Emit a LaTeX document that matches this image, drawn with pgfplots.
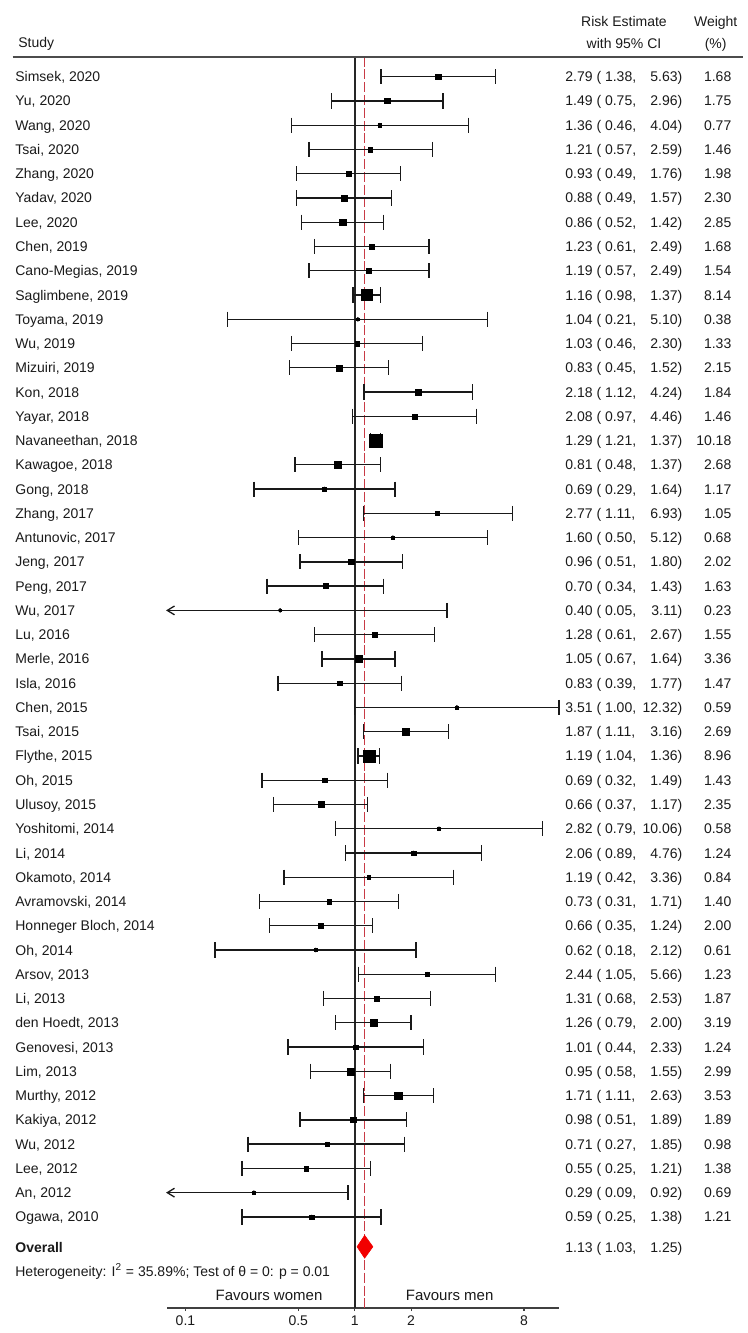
\documentclass[border=0pt]{standalone}
\usepackage{fontspec}
\setmainfont{Liberation Sans}
\usepackage{pgfplots}
\usepackage{pgfplotstable}
\pgfplotsset{compat=1.18}

% open arrow head for intervals that run past the left edge
\pgfdeclareplotmark{barb}{%
  \pgfpathmoveto{\pgfqpoint{3.6pt}{2.2pt}}%
  \pgfpathlineto{\pgfqpoint{0pt}{0pt}}%
  \pgfpathlineto{\pgfqpoint{3.6pt}{-2.2pt}}%
  \pgfusepathqstroke}

\definecolor{fpRed}{HTML}{C83A45}
\definecolor{fpDiamond}{HTML}{F20000}
\definecolor{fpText}{HTML}{1A1A1A}

% two-decimal numbers in the text font
\newcommand{\twodp}[1]{\pgfmathprintnumber[fixed,fixed zerofill,precision=2,assume math mode=true]{#1}}

\begin{document}
\pgfplotstableread[col sep=semicolon]{
idx;study;est;lo;hi;wt
1;Simsek, 2020;2.79;1.38;5.63;1.68
2;Yu, 2020;1.49;0.75;2.96;1.75
3;Wang, 2020;1.36;0.46;4.04;0.77
4;Tsai, 2020;1.21;0.57;2.59;1.46
5;Zhang, 2020;0.93;0.49;1.76;1.98
6;Yadav, 2020;0.88;0.49;1.57;2.30
7;Lee, 2020;0.86;0.52;1.42;2.85
8;Chen, 2019;1.23;0.61;2.49;1.68
9;Cano-Megias, 2019;1.19;0.57;2.49;1.54
10;Saglimbene, 2019;1.16;0.98;1.37;8.14
11;Toyama, 2019;1.04;0.21;5.10;0.38
12;Wu, 2019;1.03;0.46;2.30;1.33
13;Mizuiri, 2019;0.83;0.45;1.52;2.15
14;Kon, 2018;2.18;1.12;4.24;1.84
15;Yayar, 2018;2.08;0.97;4.46;1.46
16;Navaneethan, 2018;1.29;1.21;1.37;10.18
17;Kawagoe, 2018;0.81;0.48;1.37;2.68
18;Gong, 2018;0.69;0.29;1.64;1.17
19;Zhang, 2017;2.77;1.11;6.93;1.05
20;Antunovic, 2017;1.60;0.50;5.12;0.68
21;Jeng, 2017;0.96;0.51;1.80;2.02
22;Peng, 2017;0.70;0.34;1.43;1.63
23;Wu, 2017;0.40;0.05;3.11;0.23
24;Lu, 2016;1.28;0.61;2.67;1.55
25;Merle, 2016;1.05;0.67;1.64;3.36
26;Isla, 2016;0.83;0.39;1.77;1.47
27;Chen, 2015;3.51;1.00;12.32;0.59
28;Tsai, 2015;1.87;1.11;3.16;2.69
29;Flythe, 2015;1.19;1.04;1.36;8.96
30;Oh, 2015;0.69;0.32;1.49;1.43
31;Ulusoy, 2015;0.66;0.37;1.17;2.35
32;Yoshitomi, 2014;2.82;0.79;10.06;0.58
33;Li, 2014;2.06;0.89;4.76;1.24
34;Okamoto, 2014;1.19;0.42;3.36;0.84
35;Avramovski, 2014;0.73;0.31;1.71;1.40
36;Honneger Bloch, 2014;0.66;0.35;1.24;2.00
37;Oh, 2014;0.62;0.18;2.12;0.61
38;Arsov, 2013;2.44;1.05;5.66;1.23
39;Li, 2013;1.31;0.68;2.53;1.87
40;den Hoedt, 2013;1.26;0.79;2.00;3.19
41;Genovesi, 2013;1.01;0.44;2.33;1.24
42;Lim, 2013;0.95;0.58;1.55;2.99
43;Murthy, 2012;1.71;1.11;2.63;3.53
44;Kakiya, 2012;0.98;0.51;1.89;1.89
45;Wu, 2012;0.71;0.27;1.85;0.98
46;Lee, 2012;0.55;0.25;1.21;1.38
47;An, 2012;0.29;0.09;0.92;0.69
48;Ogawa, 2010;0.59;0.25;1.38;1.21
}\studies

\begin{tikzpicture}[font=\fontsize{7}{8.4}\selectfont, every node/.append style={text=fpText},
  cell/.style={inner sep=0pt, text height=5pt, text depth=0pt}]
\useasboundingbox (-83.65pt,-12.5pt) rectangle (290.35pt,654pt);
\begin{axis}[
  at={(0,0)}, anchor=south west,
  scale only axis, width=195.9pt, height=625.65pt,
  xmode=log, xmin=0.1, xmax=12.32,
  ymin=-51.755, ymax=-0.1756,
  axis x line*=bottom, axis y line=none,
  axis line style={draw=black!75, line width=0.55pt},
  xtick={0.125,0.5,1,2,8}, xticklabels={0.1,0.5,1,2,8},
  minor xtick={}, ytick=\empty,
  tick align=outside, major tick length=1.6pt,
  tick style={draw=black!75, line width=0.55pt},
  xticklabel style={cell, font=\fontsize{7}{8.4}\selectfont, yshift=-2pt},
  clip=false,
  every node near coord/.append style={cell, font=\fontsize{7}{8.4}\selectfont},
]
% reference lines
\addplot[black!85, line width=0.8pt] coordinates {(1,-0.1756) (1,-51.755)};
\addplot[fpRed, line width=0.65pt, dash pattern=on 5pt off 1.4pt] coordinates {(1.13,-0.1756) (1.13,-51.755)};

% confidence intervals and point estimates
\addplot[only marks, mark=*, mark size=0.9pt, black,
  error bars/.cd, x dir=both, x explicit, error mark=none,
  error bar style={line width=0.65pt, black!90}]
  table[x=est, y expr=-\thisrow{idx},
        x error plus expr={\thisrow{hi}-\thisrow{est}},
        x error minus expr={\thisrow{est}-max(\thisrow{lo},0.1)}] {\studies};
\addplot[only marks, mark=|, mark size=3.8pt, black!90, mark options={line width=0.65pt}]
  table[x=hi, y expr=-\thisrow{idx}] {\studies};
\addplot[only marks, mark=|, mark size=3.8pt, black!90, mark options={line width=0.65pt},
  restrict expr to domain={\thisrow{lo}}{0.1:100}]
  table[x=lo, y expr=-\thisrow{idx}] {\studies};
\addplot[only marks, mark=barb, black!90, mark options={line width=0.65pt},
  restrict expr to domain={\thisrow{lo}}{0:0.0999}]
  table[x expr=0.1, y expr=-\thisrow{idx}] {\studies};

% weight boxes, area proportional to weight
\addplot[scatter, only marks, mark=square*,
  scatter/use mapped color={draw=black, fill=black},
  visualization depends on={0.99*sqrt(\thisrow{wt})\as\boxsize},
  scatter/@pre marker code/.append style={/tikz/mark size=\boxsize},
  mark options={line width=0.2pt}]
  table[x=est, y expr=-\thisrow{idx}] {\studies};

% overall diamond
\addplot[fill=fpDiamond, draw=fpDiamond, line width=0.3pt]
  coordinates {(1.03,-49.23) (1.13,-48.76) (1.25,-49.23) (1.13,-49.70)} -- cycle;

% text columns
\addplot[draw=none, point meta=explicit symbolic, nodes near coords=\pgfplotspointmeta,
  every node near coord/.append style={anchor=west, xshift=-76.15pt}]
  table[x expr=0.1, y expr=-\thisrow{idx}, meta=study] {\studies};
\addplot[draw=none, nodes near coords={\twodp{\est}\ (\ \twodp{\lo},},
  visualization depends on={\thisrow{est}\as\est},
  visualization depends on={\thisrow{lo}\as\lo},
  every node near coord/.append style={anchor=west, xshift=2.95pt}]
  table[x expr=12.32, y expr=-\thisrow{idx}] {\studies};
\addplot[draw=none, nodes near coords={\twodp{\hi})},
  visualization depends on={\thisrow{hi}\as\hi},
  every node near coord/.append style={anchor=east, xshift=61.8pt}]
  table[x expr=12.32, y expr=-\thisrow{idx}] {\studies};
\addplot[draw=none, nodes near coords={\twodp{\wt}},
  visualization depends on={\thisrow{wt}\as\wt},
  every node near coord/.append style={anchor=east, xshift=86.3pt}]
  table[x expr=12.32, y expr=-\thisrow{idx}] {\studies};

% header
\node[cell, anchor=west] at ([xshift=-74.65pt]axis cs:0.1,0.40) {Study};
\node[cell] at ([xshift=32.45pt]axis cs:12.32,1.267) {Risk Estimate};
\node[cell] at ([xshift=32.45pt]axis cs:12.32,0.377) {with 95\% CI};
\node[cell] at ([xshift=78.3pt]axis cs:12.32,1.267) {Weight};
\node[cell] at ([xshift=78.3pt]axis cs:12.32,0.377) {(\%)};
\draw[black!70, line width=0.9pt] ([xshift=-77.3pt]axis cs:0.1,-0.1756) -- ([xshift=91.95pt]axis cs:12.32,-0.1756);

% overall and footer
\node[cell, anchor=west, font=\fontsize{7}{8.4}\selectfont\bfseries] at ([xshift=-76.15pt]axis cs:0.1,-49.25) {Overall};
\node[cell, anchor=west] at ([xshift=2.95pt]axis cs:12.32,-49.25) {1.13 ( 1.03,};
\node[cell, anchor=east] at ([xshift=61.8pt]axis cs:12.32,-49.25) {1.25)};
\node[cell, anchor=west] at ([xshift=-76.15pt]axis cs:0.1,-50.26) {Heterogeneity: I\textsuperscript{2} = 35.89\%; Test of θ = 0: p = 0.01};
\node[cell, font=\fontsize{7.5}{9}\selectfont] at (axis cs:0.349,-51.26) {Favours women};
\node[cell, font=\fontsize{7.5}{9}\selectfont] at (axis cs:3.21,-51.26) {Favours men};
\end{axis}
\end{tikzpicture}
\end{document}
